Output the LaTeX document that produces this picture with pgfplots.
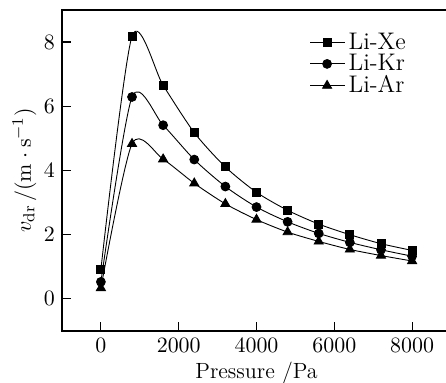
\documentclass[border=0pt]{standalone}
\usepackage{pgfplots}
\pgfplotsset{compat=1.18}
\begin{document}
\begin{tikzpicture}
\begin{axis}[
  scale only axis,
  width=194.5pt, height=160.5pt,
  xmin=-1000, xmax=9000,
  ymin=-1, ymax=9,
  xtick={0,2000,4000,6000,8000},
  ytick={0,2,4,6,8},
  scaled x ticks=false,
  xticklabel style={/pgf/number format/1000 sep={}},
  tick label style={font=\fontsize{10.5}{12}\selectfont},
  tick align=inside,
  xtick pos=bottom, ytick pos=left,
  major tick length=4.5pt,
  axis line style={line width=0.8pt},
  every tick/.style={line width=0.6pt, black},
  xlabel={Pressure /Pa},
  ylabel={$v_{\mathrm{dr}}\,/(\mathrm{m\cdot s^{-1}})$},
  label style={font=\fontsize{11}{13}\selectfont},
  xlabel style={yshift=2pt},
  ylabel style={yshift=-3pt},
  legend style={at={(0.62,0.955)}, anchor=north west, draw=none, fill=none,
    row sep=-3pt, font=\fontsize{12}{12}\selectfont,
    nodes={inner xsep=2pt}},
  legend cell align=left,
]
\addplot[black, line width=0.45pt, smooth, tension=0.45, mark=square*, mark size=2pt, mark options={solid}]
 coordinates {(0,0.92) (800,8.18) (1600,6.65) (2400,5.18) (3200,4.11) (4000,3.32) (4800,2.76) (5600,2.33) (6400,2.0) (7200,1.72) (8000,1.51)};
\addlegendentry{Li-Xe}
\addplot[black, line width=0.45pt, smooth, tension=0.45, mark=*, mark size=2.2pt, mark options={solid}]
 coordinates {(0,0.53) (800,6.29) (1600,5.41) (2400,4.34) (3200,3.50) (4000,2.86) (4800,2.40) (5600,2.04) (6400,1.76) (7200,1.53) (8000,1.33)};
\addlegendentry{Li-Kr}
\addplot[black, line width=0.45pt, smooth, tension=0.45, mark=triangle*, mark size=2.6pt, mark options={solid}]
 coordinates {(0,0.34) (800,4.83) (1600,4.35) (2400,3.60) (3200,2.96) (4000,2.47) (4800,2.08) (5600,1.79) (6400,1.54) (7200,1.35) (8000,1.18)};
\addlegendentry{Li-Ar}
\end{axis}
\pgfresetboundingbox
\path[use as bounding box] (-31pt,-26pt) rectangle (192pt,165.5pt);
\end{tikzpicture}
\end{document}
